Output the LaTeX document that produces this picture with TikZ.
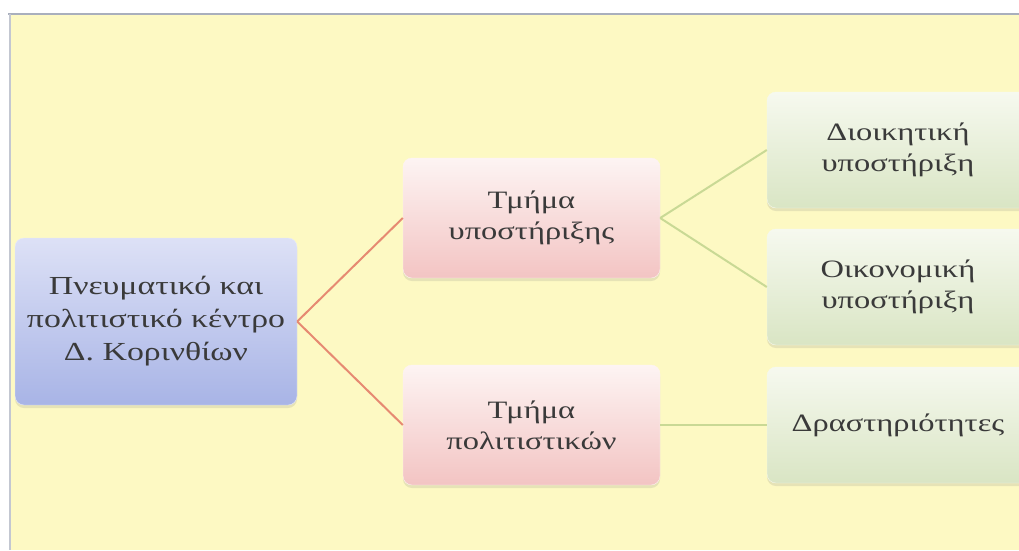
\documentclass[tikz,border=0pt]{standalone}
\usepackage{fontspec}
\setmainfont{Liberation Serif}[FakeStretch=1.3]
\usetikzlibrary{shadows}
\definecolor{bgyellow}{HTML}{FDF9C3}
\definecolor{frame}{HTML}{A9AFBD}
\definecolor{txt}{HTML}{3A3A3A}
\definecolor{bluetop}{HTML}{DDE1F6}
\definecolor{bluebot}{HTML}{A8B4E6}
\definecolor{pinktop}{HTML}{FDF4F3}
\definecolor{pinkbot}{HTML}{F3C4C3}
\definecolor{greentop}{HTML}{F6F9EF}
\definecolor{greenbot}{HTML}{D9E5C4}
\definecolor{redline}{HTML}{E68A72}
\definecolor{greenline}{HTML}{C9D995}
\tikzset{
  box/.style={rounded corners=9pt, align=center, text=txt, inner sep=0pt,
    font=\fontsize{26}{33}\selectfont,
    drop shadow={shadow xshift=0pt, shadow yshift=-3pt, opacity=0.18}},
  rootbox/.style={box, top color=bluetop, bottom color=bluebot, draw=bluetop!70!white,
    minimum width=282pt, minimum height=167pt},
  midbox/.style={box, top color=pinktop, bottom color=pinkbot, draw=pinktop,
    minimum width=257pt, minimum height=120pt, font=\fontsize{25}{31}\selectfont},
  leafbox/.style={box, top color=greentop, bottom color=greenbot, draw=greentop,
    minimum width=262pt, minimum height=116pt, font=\fontsize{25}{31}\selectfont},
  redlink/.style={draw=redline, line width=2pt},
  greenlink/.style={draw=greenline, line width=2pt}
}
\begin{document}
\begin{tikzpicture}[x=1pt,y=-1pt]
\useasboundingbox (0,0) rectangle (1019,550);
\fill[white] (0,0) rectangle (1019,550);
\fill[bgyellow] (11,14) rectangle (1019,550);
\draw[frame, line width=2pt] (8,14) -- (1019,14);
\draw[frame!70!white, line width=2pt] (10,14) -- (10,550);

\node[rootbox] (root) at (156,321.5) {Πνευματικό και\\πολιτιστικό κέντρο\\Δ. Κορινθίων};
\node[midbox] (sup) at (531.5,218) {Τμήμα\\υποστήριξης};
\node[midbox] (cult) at (531.5,425) {Τμήμα\\πολιτιστικών};
\node[leafbox] (adm) at (898,150) {Διοικητική\\υποστήριξη};
\node[leafbox] (eco) at (898,287) {Οικονομική\\υποστήριξη};
\node[leafbox] (act) at (898,425) {Δραστηριότητες};

\draw[redlink] (root.east) -- (sup.west);
\draw[redlink] (root.east) -- (cult.west);
\draw[greenlink] (sup.east) -- (adm.west);
\draw[greenlink] (sup.east) -- (eco.west);
\draw[greenlink] (cult.east) -- (act.west);
\end{tikzpicture}
\end{document}
